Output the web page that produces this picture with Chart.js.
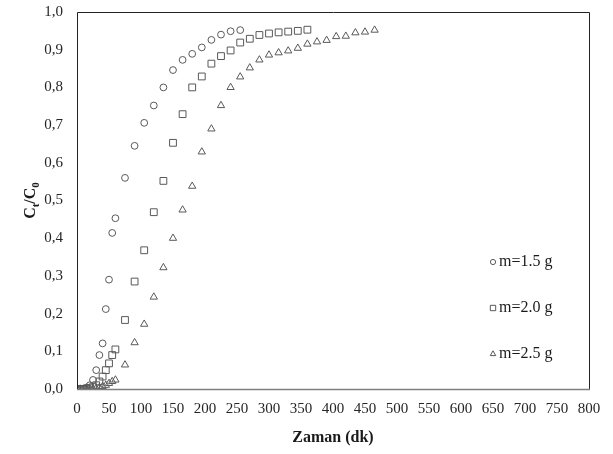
<!DOCTYPE html>
<html>
<head>
<meta charset="utf-8">
<script src="https://cdn.jsdelivr.net/npm/chart.js@4.4.1/dist/chart.umd.min.js"></script>
<style>
html,body{margin:0;padding:0;background:#fff;}
#wrap{width:613px;height:454px;position:relative;}
</style>
</head>
<body>
<div id="wrap"><canvas id="c" width="613" height="454"></canvas></div>
<script>
// ---- data ----
const seriesNames = ["m=1.5 g", "m=2.0 g", "m=2.5 g"];
const t15 = [0,5,10,15,20,25,30,35,40,45,50,55,60,75,90,105,120,135,150,165,180,195,210,225,240,255];
const c15 = [0,0,0.001,0.004,0.010,0.024,0.050,0.090,0.121,0.212,0.290,0.414,0.453,0.560,0.645,0.706,0.752,0.800,0.846,0.873,0.889,0.906,0.926,0.940,0.949,0.952];
const t20 = [0,5,10,15,20,25,30,35,40,45,50,55,60,75,90,105,120,135,150,165,180,195,210,225,240,255,270,285,300,315,330,345,360];
const c20 = [0,0,0,0,0.002,0.005,0.010,0.020,0.033,0.050,0.068,0.090,0.105,0.183,0.285,0.368,0.469,0.552,0.653,0.729,0.800,0.829,0.863,0.883,0.898,0.919,0.929,0.939,0.943,0.946,0.948,0.950,0.953];
const t25 = [0,5,10,15,20,25,30,35,40,45,50,55,60,75,90,105,120,135,150,165,180,195,210,225,240,255,270,285,300,315,330,345,360,375,390,405,420,435,450,465];
const c25 = [0,0,0,0,0,0.001,0.002,0.004,0.007,0.010,0.015,0.020,0.024,0.064,0.123,0.172,0.244,0.322,0.400,0.475,0.538,0.629,0.690,0.752,0.800,0.828,0.852,0.873,0.886,0.892,0.897,0.904,0.915,0.921,0.925,0.935,0.936,0.945,0.947,0.952];
const xTitle = "Zaman (dk)";
const yMin = 0, yMax = 1, yStep = 0.1;
const xMin = 0, xMax = 800, xStep = 50;

const toPts = (ts, cs) => ts.map((t, i) => ({x: t, y: cs[i]}));
const markerColor = "#595959";
const serif = "'Liberation Serif','Times New Roman',serif";

const decorPlugin = {
  id: 'decor',
  afterDraw(chart) {
    const ctx = chart.ctx, a = chart.chartArea;
    ctx.save();
    // frame
    ctx.strokeStyle = "#222";
    ctx.lineWidth = 1;
    ctx.beginPath();
    ctx.moveTo(a.left + 0.5, a.bottom);
    ctx.lineTo(a.left + 0.5, a.top + 0.5);
    ctx.lineTo(a.right + 0.5, a.top + 0.5);
    ctx.lineTo(a.right + 0.5, a.bottom);
    ctx.stroke();
    ctx.strokeStyle = "#7f7f7f";
    ctx.lineWidth = 1.5;
    ctx.beginPath();
    ctx.moveTo(a.left, a.bottom + 0.5);
    ctx.lineTo(a.right + 1, a.bottom + 0.5);
    ctx.stroke();

    // x title
    ctx.fillStyle = "#1a1a1a";
    ctx.font = "bold 16px " + serif;
    ctx.textAlign = "center";
    ctx.textBaseline = "middle";
    ctx.fillText(xTitle, (a.left + a.right) / 2, 438);

    // y title  C_t / C_0
    ctx.translate(30, (a.top + a.bottom) / 2);
    ctx.rotate(-Math.PI / 2);
    const big = "bold 16px " + serif, small = "bold 11px " + serif;
    const parts = [["C", big, 0], ["t", small, 4], ["/C", big, 0], ["0", small, 4]];
    let w = 0;
    parts.forEach(p => { ctx.font = p[1]; w += ctx.measureText(p[0]).width; });
    let x = -w / 2;
    ctx.textAlign = "left";
    ctx.textBaseline = "alphabetic";
    parts.forEach(p => { ctx.font = p[1]; ctx.fillText(p[0], x, 5 + p[2]); x += ctx.measureText(p[0]).width; });
    ctx.restore();

    // legend
    ctx.save();
    const ys = [262, 308, 354];
    chart.data.datasets.forEach((ds, i) => {
      const mx = 493, my = ys[i];
      ctx.strokeStyle = markerColor;
      ctx.fillStyle = "#ffffff";
      ctx.lineWidth = 1;
      Chart.helpers.drawPoint(ctx, {pointStyle: ds.pointStyle, radius: ds.pointStyle === 'rect' ? 3.8 : (ds.pointStyle === 'triangle' ? 3.2 : 2.6), borderWidth: 1}, mx, my);
      ctx.fillStyle = "#1a1a1a";
      ctx.font = "16px " + serif;
      ctx.textAlign = "left";
      ctx.textBaseline = "middle";
      ctx.fillText(ds.label, 499, my);
    });
    ctx.restore();
  }
};

const mk = (label, ts, cs, style, r) => ({
  label, data: toPts(ts, cs), showLine: false,
  pointStyle: style, pointRadius: r, pointHoverRadius: r,
  pointBorderColor: markerColor, pointBackgroundColor: "rgba(255,255,255,0)",
  pointBorderWidth: 1, borderColor: markerColor, backgroundColor: "rgba(0,0,0,0)"
});

new Chart(document.getElementById('c'), {
  type: 'scatter',
  data: {
    datasets: [
      mk(seriesNames[0], t15, c15, 'circle', 3.4),
      mk(seriesNames[1], t20, c20, 'rect', 4.8),
      mk(seriesNames[2], t25, c25, 'triangle', 4.2)
    ]
  },
  options: {
    responsive: false,
    animation: false,
    devicePixelRatio: 1,
    layout: {padding: {left: 0, right: 24, top: 12, bottom: 0}},
    plugins: {legend: {display: false}, tooltip: {enabled: false}},
    scales: {
      x: {
        type: 'linear', min: xMin, max: xMax,
        ticks: {stepSize: xStep, color: "#262626", font: {family: serif, size: 15}, padding: 11, maxRotation: 0, autoSkip: false},
        grid: {display: false, drawTicks: false},
        border: {display: false},
        afterFit(s) { s.height = 65; s.paddingLeft = 0; s.paddingRight = 0; }
      },
      y: {
        type: 'linear', min: yMin, max: yMax,
        ticks: {stepSize: yStep, color: "#262626", font: {family: serif, size: 15}, padding: 14,
          callback: v => v.toFixed(1).replace('.', ',')},
        grid: {display: false, drawTicks: false},
        border: {display: false},
        afterFit(s) { s.width = 77; s.paddingTop = 0; s.paddingBottom = 0; }
      }
    }
  },
  plugins: [decorPlugin]
});
</script>
</body>
</html>
